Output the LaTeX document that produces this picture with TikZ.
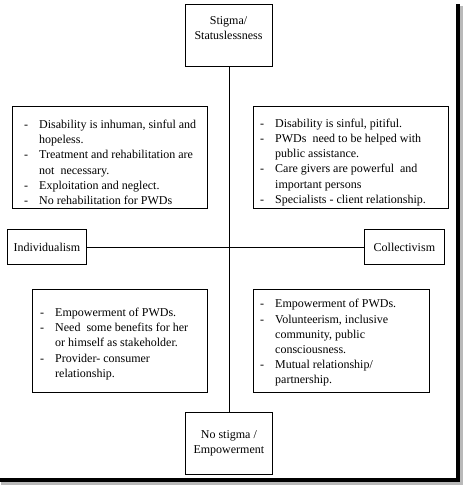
\documentclass[tikz,border=0pt]{standalone}
\usepackage{fontspec}
\setmainfont{Liberation Serif}
\newcommand{\itm}[1]{\makebox[15pt][l]{-}#1}
\newcommand{\cnt}[1]{\hspace*{15pt}#1}
\begin{document}
\begin{tikzpicture}[x=1pt,y=-1pt,
  box/.style={draw, line width=0.8pt, inner sep=0pt, anchor=north west},
  txt/.style={inner sep=0pt, align=left, font=\fontsize{12}{15.2}\selectfont, anchor=west},
  ctxt/.style={inner sep=0pt, align=center, font=\fontsize{12}{15}\selectfont},
  conn/.style={line width=0.8pt}]
\useasboundingbox (0,0) rectangle (463,486);
% frame with shadow
\fill[gray!55] (460,6) rectangle (462.5,484.5);
\fill[gray!55] (1,482) rectangle (462.5,484.5);
\fill[black] (456,4) rectangle (460,482);
\fill[black] (0,478) rectangle (460,482);
% axis boxes
\node[box, minimum width=87pt, minimum height=62pt] (top) at (185,4) {};
\node[ctxt] (topt) at (228.5,28) {Stigma/\\Statuslessness};
\node[box, minimum width=87pt, minimum height=62pt] (bot) at (185,412) {};
\node[ctxt] (bott) at (bot.center) {No stigma /\\Empowerment};
\node[box, minimum width=79pt, minimum height=35pt] (ind) at (7,229) {};
\node[ctxt] (indt) at (ind.center) {Individualism};
\node[box, minimum width=80pt, minimum height=35pt] (col) at (364,229) {};
\node[ctxt] (colt) at (col.center) {Collectivism};
% connectors
\draw[conn] (top.south) -- (bot.north);
\draw[conn] (ind.east) -- (col.west);
% quadrant boxes
\node[box, minimum width=195pt, minimum height=102pt] (tl) at (12,106) {};
\node[txt] (tlt) at ([xshift=12pt,yshift=-5pt]tl.west) {\itm{Disability is inhuman, sinful and}\\
\cnt{hopeless.}\\
\itm{Treatment and rehabilitation are}\\
\cnt{not\ \ necessary.}\\
\itm{Exploitation and neglect.}\\
\itm{No rehabilitation for PWDs}};
\node[box, minimum width=195pt, minimum height=102pt] (tr) at (253,106) {};
\node[txt] (trt) at ([xshift=7pt,yshift=-5pt]tr.west) {\itm{Disability is sinful, pitiful.}\\
\itm{PWDs\ \ need to be helped with}\\
\cnt{public assistance.}\\
\itm{Care givers are powerful\ \ and}\\
\cnt{important persons}\\
\itm{Specialists - client relationship.}};
\node[box, minimum width=175pt, minimum height=103pt] (bl) at (32,289) {};
\node[txt] (blt) at ([xshift=8pt,yshift=-3pt]bl.west) {\itm{Empowerment of PWDs.}\\
\itm{Need\ \ some benefits for her}\\
\cnt{or himself as stakeholder.}\\
\itm{Provider- consumer}\\
\cnt{relationship.}};
\node[box, minimum width=176pt, minimum height=103pt] (br) at (253,289) {};
\node[txt] (brt) at ([xshift=7pt,yshift=-2pt]br.west) {\itm{Empowerment of PWDs.}\\
\itm{Volunteerism, inclusive}\\
\cnt{community, public}\\
\cnt{consciousness.}\\
\itm{Mutual relationship/}\\
\cnt{partnership.}};
\end{tikzpicture}
\end{document}
